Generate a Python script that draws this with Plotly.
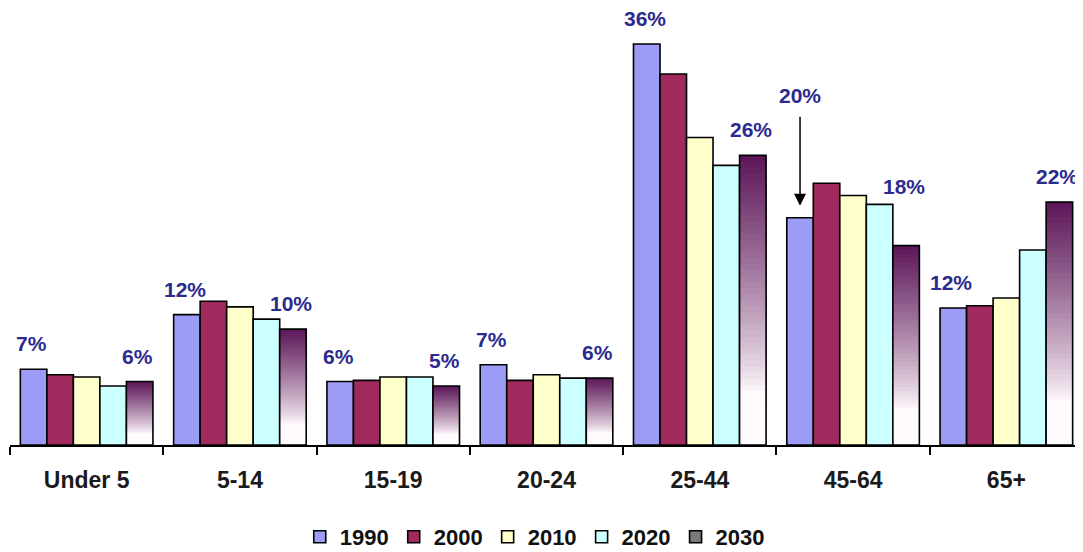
import plotly.graph_objects as go

# ---------------- data ----------------
categories = ["Under 5", "5-14", "15-19", "20-24", "25-44", "45-64", "65+"]
years = ["1990", "2000", "2010", "2020", "2030"]
v1990 = [6.8, 11.7, 5.7, 7.2, 36.0, 20.4, 12.3]
v2000 = [6.3, 12.9, 5.8, 5.8, 33.3, 23.5, 12.5]
v2010 = [6.1, 12.4, 6.1, 6.3, 27.6, 22.4, 13.2]
v2020 = [5.3, 11.3, 6.1, 6.0, 25.1, 21.6, 17.5]
v2030 = [5.7, 10.4, 5.3, 6.0, 26.0, 17.9, 21.8]
labelled_years = ["1990", "2030"]

# ---------------- styles ----------------
series = [v1990, v2000, v2010, v2020, v2030]
colors = ["#9c9cf7", "#a0295e", "#ffffcc", "#ccffff", None]
FONT = "Arial, Liberation Sans, sans-serif"
LABEL_COLOR = "#2b2b8f"
W = 0.173
N_SEG = 48

def off(i):
    return -2.5 * W + i * W

def grad_color(t):
    # t: 0 bottom .. 1 top
    top = (92, 22, 88)
    white = (255, 250, 253)
    s = max(0.0, (t - 0.18) / 0.82)
    s = s ** 0.85
    c = [round(white[k] + (top[k] - white[k]) * s) for k in range(3)]
    return "rgb(%d,%d,%d)" % tuple(c)

fig = go.Figure()

for i, (yr, vals, col) in enumerate(zip(years, series, colors)):
    if col is not None:
        fig.add_trace(go.Bar(
            x=categories, y=vals, name=yr, width=W, offset=off(i),
            marker=dict(color=col, line=dict(color="black", width=1.6)),
            hoverinfo="skip"))
    else:
        # gradient: overlapping bars, tallest (darkest) first
        for k in range(N_SEG, 0, -1):
            frac = k / N_SEG
            fig.add_trace(go.Bar(
                x=categories, y=[v * frac for v in vals], width=W, offset=off(i),
                marker=dict(color=grad_color(frac - 0.5 / N_SEG), line=dict(width=0)),
                showlegend=False, hoverinfo="skip"))
        fig.add_trace(go.Bar(
            x=categories, y=vals, width=W, offset=off(i), showlegend=False,
            marker=dict(color="rgba(0,0,0,0)", line=dict(color="black", width=1.6)),
            hoverinfo="skip"))
        fig.add_trace(go.Bar(
            x=categories, y=[None] * len(categories), name=yr, width=W, offset=off(i),
            marker=dict(color="#7a7a7a", line=dict(color="black", width=1.6)),
            hoverinfo="skip"))

# ---------------- value labels ----------------
LABEL_FONT = dict(family=FONT, size=21, color=LABEL_COLOR, weight="bold")
annotations = []
for yr in labelled_years:
    i = years.index(yr)
    vals = series[i]
    for g, v in enumerate(vals):
        xpos = g + (i - 2) * W
        txt = "%d%%" % round(v)
        if yr == "1990" and categories[g] == "45-64":
            annotations.append(dict(
                x=xpos, y=v, xref="x", yref="y", text=txt, showarrow=True,
                ax=0, ay=-122, arrowhead=2, arrowsize=1.6, arrowwidth=1.5,
                arrowcolor="black", standoff=12, startstandoff=8,
                font=LABEL_FONT))
            continue
        lift = 13
        if yr == "2030" and categories[g] == "45-64":
            lift = 47
        annotations.append(dict(
            x=xpos, y=v, xref="x", yref="y", text=txt, showarrow=False,
            yanchor="bottom", yshift=lift, xshift=-2, borderpad=0,
            font=LABEL_FONT))

fig.update_layout(
    width=1075, height=550,
    barmode="overlay",
    paper_bgcolor="white", plot_bgcolor="white",
    margin=dict(l=2, r=0, t=0, b=113),
    annotations=annotations,
    showlegend=True,
    legend=dict(orientation="h", xref="container", yref="container",
                x=0.49, xanchor="center", y=0.0, yanchor="bottom",
                font=dict(family=FONT, size=22, color="#111111", weight="bold"),
                itemwidth=30, tracegroupgap=0),
    xaxis=dict(type="category", range=[-0.5, 6.5], showgrid=False,
               showline=True, linecolor="black", linewidth=1.5,
               ticks="outside", tickson="boundaries", ticklen=8,
               tickcolor="black", tickwidth=1.5, ticklabelstandoff=14,
               tickfont=dict(family=FONT, size=23, color="#1a1a1a", weight="bold")),
    yaxis=dict(visible=False, range=[0, 39.23], showgrid=False, zeroline=False),
)

fig.write_html("out.html")
